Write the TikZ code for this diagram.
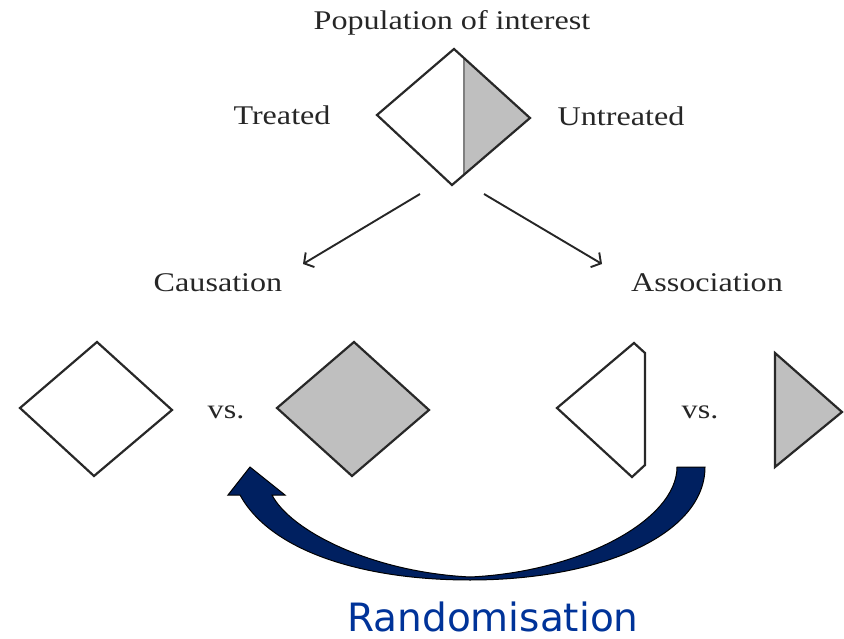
\documentclass[tikz,border=0pt]{standalone}
\usepackage{fontspec}
\setmainfont{Liberation Serif}[FakeStretch=1.19]
\newfontfamily\randfont{DejaVu Sans}
\usetikzlibrary{arrows.meta}
\definecolor{shadegray}{RGB}{191,191,191}
\definecolor{outline}{RGB}{40,40,40}
\definecolor{navy}{RGB}{0,32,96}
\definecolor{randblue}{RGB}{0,51,153}
\begin{document}
\begin{tikzpicture}[x=1pt,y=-1pt,
  lbl/.style={font=\fontsize{27}{30}\selectfont, anchor=base, inner sep=0pt, text=black!85},
  shapeline/.style={draw=outline, line width=2.2pt, line join=miter},
  conn/.style={draw=black!85, line width=1.9pt, -{Straight Barb[length=7pt,width=17pt,line width=1.9pt]}}]
\useasboundingbox (0,0) rectangle (844,639);

% texts
\node[lbl] (pop) at (452,30) {Population of interest};
\node[lbl] (treated) at (282,125) {Treated};
\node[lbl] (untreated) at (621,126) {Untreated};
\node[lbl] (caus) at (218,292) {Causation};
\node[lbl] (assoc) at (707,292) {Association};
\node[lbl] (vs1) at (226,418) {vs.};
\node[lbl] (vs2) at (700,418) {vs.};
\node[anchor=base, inner sep=0pt, text=randblue, font=\randfont\fontsize{39}{42}\selectfont] (rand) at (493,631) {Randomisation};

% top diamond
\fill[shadegray] (464,58) -- (530,118) -- (464,175) -- cycle;
\draw[gray, line width=1.5pt] (464,58) -- (464,175);
\draw[shapeline] (454,49) -- (530,118) -- (452,185) -- (377,115) -- cycle;

% arrows
\coordinate (a1s) at (420,194);
\coordinate (a1e) at (303,264);
\coordinate (a2s) at (484,194);
\coordinate (a2e) at (602,264);
\draw[conn] (a1s) -- (a1e);
\draw[conn] (a2s) -- (a2e);

% bottom shapes
\draw[shapeline] (20,408) -- (97,342) -- (172,410) -- (94,476) -- cycle;
\draw[shapeline, fill=shadegray] (277,408) -- (354,342) -- (429,410) -- (352,476) -- cycle;
\draw[shapeline] (557,408) -- (634,343) -- (645,353) -- (645,465) -- (632,477) -- cycle;
\draw[shapeline, fill=shadegray] (775,353) -- (842,412) -- (775,467) -- cycle;

% curved randomisation arrow
\draw[fill=navy, draw=black, line width=1pt, line join=miter]
  (705,467) .. controls (705,535) and (600,580) .. (470,580)
  .. controls (360,580) and (270,550) .. (240,495)
  -- (228,495) -- (250,467) -- (285,495) -- (272,495)
  .. controls (290,530) and (370,572) .. (470,577)
  .. controls (580,572) and (677,520) .. (677,467) -- cycle;
\end{tikzpicture}
\end{document}
